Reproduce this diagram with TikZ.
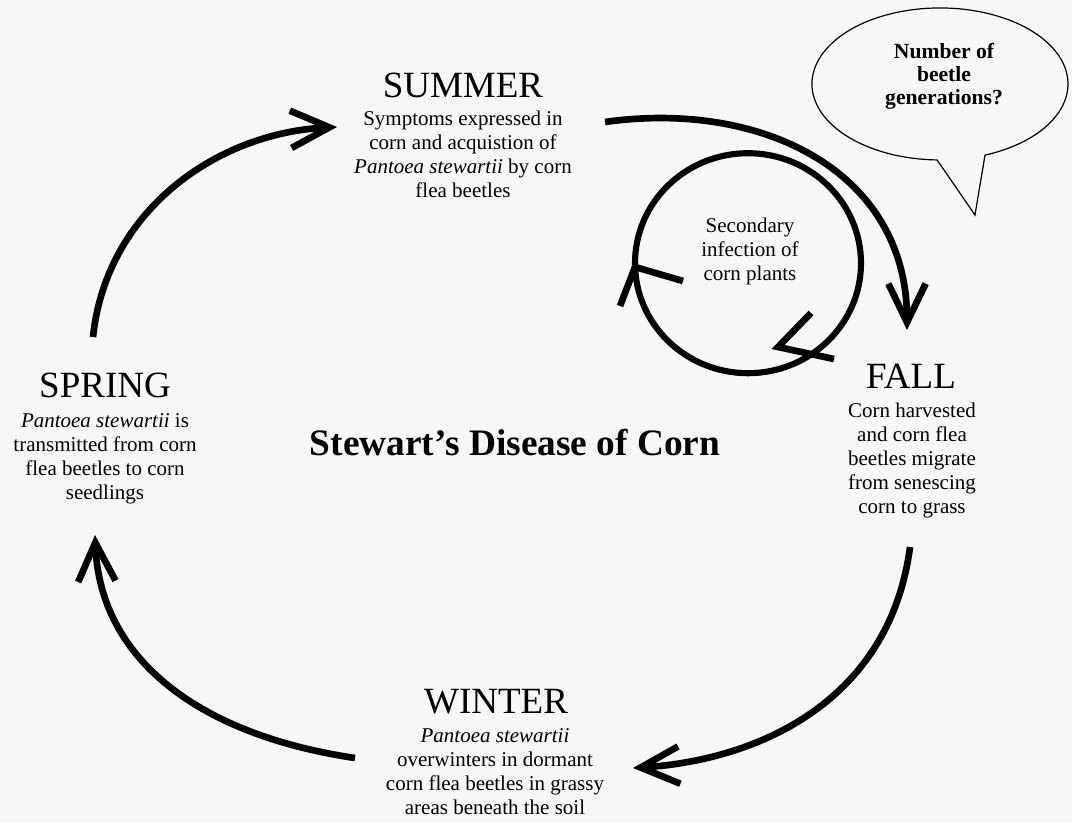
\documentclass[tikz,border=0pt]{standalone}
\usepackage{fontspec}
\setmainfont{Liberation Serif}
\usetikzlibrary{arrows.meta}
\definecolor{bg}{RGB}{247,247,247}
\begin{document}
\begin{tikzpicture}[x=0.75pt,y=-0.75pt,
  season/.style={font=\fontsize{27.75pt}{30pt}\selectfont, inner sep=0pt, anchor=base},
  body/.style={font=\fontsize{15.75pt}{18pt}\selectfont, inner sep=0pt, anchor=base},
  bubtext/.style={font=\fontsize{16.2pt}{17.6pt}\selectfont\bfseries, inner sep=0pt, anchor=base},
  maintitle/.style={font=\fontsize{28pt}{32pt}\selectfont\bfseries, inner sep=0pt, anchor=base},
  cyc/.style={line width=5pt, -{Straight Barb[length=29pt,width=28pt]}},
  ring/.style={line width=4.6pt},
  barb/.style={line width=5pt},
  bubble/.style={line width=0.9pt}]
\fill[bg] (0,0) rectangle (1072,822);
\useasboundingbox (0,0) rectangle (1072,822);

% season titles
\node[season] (summer) at (463,97) {SUMMER};
\node[season] (spring) at (105,397) {SPRING};
\node[season] (fall) at (911,388) {FALL};
\node[season] (winter) at (496,713) {WINTER};

% season descriptions
\node[body] (summerb) at (463,125) {\begin{tabular}[t]{@{}c@{}}Symptoms expressed in\\ corn and acquistion of\\ \textit{Pantoea stewartii} by corn\\ flea beetles\end{tabular}};
\node[body] (springb) at (105,427) {\begin{tabular}[t]{@{}c@{}}\textit{Pantoea stewartii} is\\ transmitted from corn\\ flea beetles to corn\\ seedlings\end{tabular}};
\node[body] (fallb) at (912,417) {\begin{tabular}[t]{@{}c@{}}Corn harvested\\ and corn flea\\ beetles migrate\\ from senescing\\ corn to grass\end{tabular}};
\node[body] (winterb) at (495,742) {\begin{tabular}[t]{@{}c@{}}\textit{Pantoea stewartii}\\ overwinters in dormant\\ corn flea beetles in grassy\\ areas beneath the soil\end{tabular}};

% central title
\node[maintitle] (title) at (515,455) {Stewart’s Disease of Corn};

% secondary infection loop
\node[body] (sec) at (750,232) {\begin{tabular}[t]{@{}c@{}}Secondary\\ infection of\\ corn plants\end{tabular}};
\draw[ring] (sec.center) ++(-2,12) coordinate (ringc) ellipse[x radius=113, y radius=110];
\coordinate (lt) at (635,267);
\coordinate (bt) at (778,347);
\draw[barb] (683,281) -- (lt) -- (620,306);
\draw[barb] (811,313) -- (bt) -- (834,359);

% main cycle arrows
\coordinate (a1s) at (93,337);
\coordinate (a1e) at (337,127);
\coordinate (a2s) at (605,122);
\coordinate (a2e) at (907,330);
\coordinate (a3s) at (910,547);
\coordinate (a3e) at (633,768);
\coordinate (a4s) at (355,758);
\coordinate (a4e) at (95,535);
\draw[cyc] (a1s) .. controls (106,212) and (215,133) .. (a1e);
\draw[cyc] (a2s) .. controls (760,100) and (907,170) .. (a2e);
\draw[cyc] (a3s) .. controls (890,700) and (760,760) .. (a3e);
\draw[cyc] (a4s) .. controls (200,735) and (100,660) .. (a4e);

% speech bubble
\draw[bubble] (985,155.1) arc[start angle=69.4, end angle=-268.7, x radius=128, y radius=76] -- (975,215) -- cycle;
\node[bubtext] (q) at (944,58) {\begin{tabular}[t]{@{}c@{}}Number of\\ beetle\\ generations?\end{tabular}};
\end{tikzpicture}
\end{document}
